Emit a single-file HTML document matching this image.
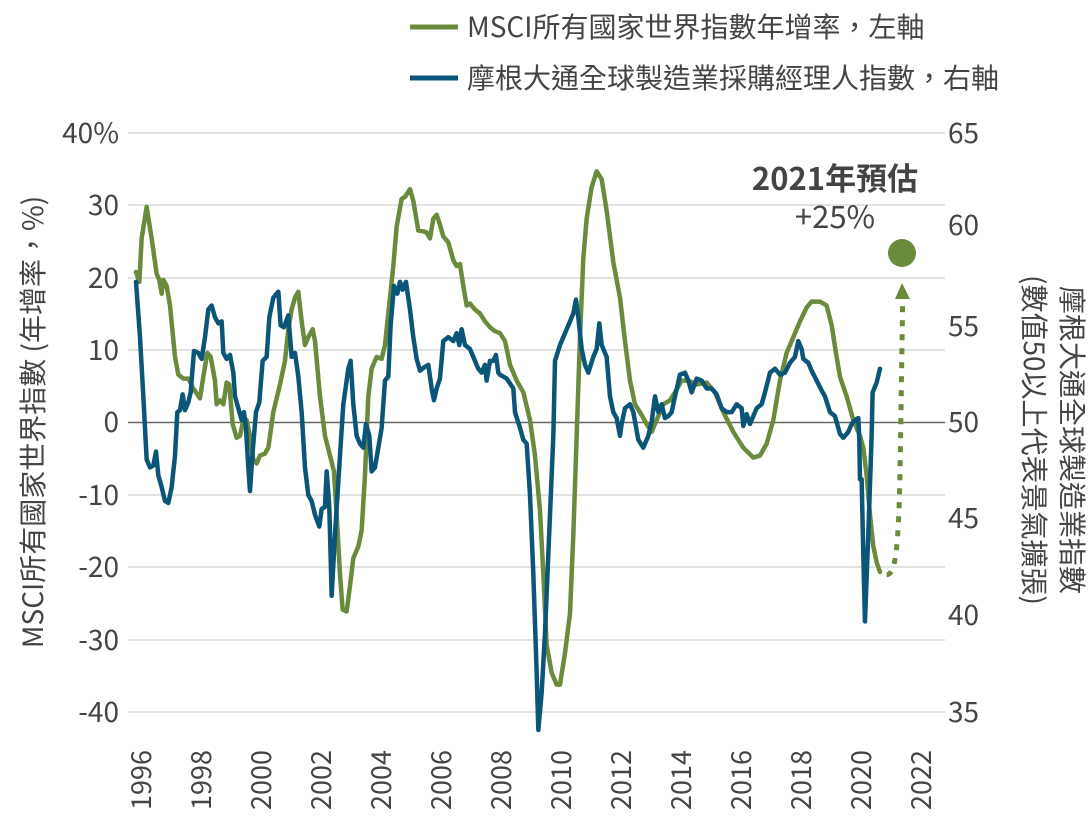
<!DOCTYPE html>
<html><head><meta charset="utf-8"><style>
body{margin:0;background:#fff}
svg{display:block}
text{font-family:"Noto Sans CJK TC","Liberation Sans",sans-serif;fill:#444}
</style></head><body>
<svg width="1090" height="838" viewBox="0 0 1090 838">
<g stroke="#d9d9d9" stroke-width="1.5">
<line x1="128" x2="945" y1="133" y2="133"/><line x1="128" x2="945" y1="205" y2="205"/>
<line x1="128" x2="945" y1="278" y2="278"/><line x1="128" x2="945" y1="350" y2="350"/>
<line x1="128" x2="945" y1="495" y2="495"/><line x1="128" x2="945" y1="567" y2="567"/>
<line x1="128" x2="945" y1="640" y2="640"/><line x1="128" x2="945" y1="712" y2="712"/>
</g>
<line x1="128" x2="945" y1="422.5" y2="422.5" stroke="#666" stroke-width="1.5"/>
<g font-size="28" text-anchor="end">
<text x="119" y="143">40%</text><text x="119" y="215">30</text><text x="119" y="288">20</text>
<text x="119" y="360">10</text><text x="119" y="432">0</text><text x="119" y="505">-10</text>
<text x="119" y="577">-20</text><text x="119" y="650">-30</text><text x="119" y="722">-40</text>
</g>
<g font-size="28">
<text x="948" y="143">65</text><text x="948" y="235">60</text><text x="948" y="336">55</text>
<text x="948" y="432">50</text><text x="948" y="528">45</text><text x="948" y="625">40</text>
<text x="948" y="722">35</text>
</g>
<g font-size="27">
<text transform="translate(151,810) rotate(-90)">1996</text>
<text transform="translate(211,810) rotate(-90)">1998</text>
<text transform="translate(271,810) rotate(-90)">2000</text>
<text transform="translate(331,810) rotate(-90)">2002</text>
<text transform="translate(391,810) rotate(-90)">2004</text>
<text transform="translate(451,810) rotate(-90)">2006</text>
<text transform="translate(511,810) rotate(-90)">2008</text>
<text transform="translate(571,810) rotate(-90)">2010</text>
<text transform="translate(631,810) rotate(-90)">2012</text>
<text transform="translate(691,810) rotate(-90)">2014</text>
<text transform="translate(751,810) rotate(-90)">2016</text>
<text transform="translate(811,810) rotate(-90)">2018</text>
<text transform="translate(871,810) rotate(-90)">2020</text>
<text transform="translate(931,810) rotate(-90)">2022</text>
</g>
<text transform="translate(43,422) rotate(-90)" font-size="28" text-anchor="middle">MSCI所有國家世界指數 (年增率，%)</text>
<text transform="translate(1062,440) rotate(90)" font-size="28" text-anchor="middle">摩根大通全球製造業指數</text>
<text transform="translate(1024,440) rotate(90)" font-size="28" text-anchor="middle">(數值50以上代表景氣擴張)</text>
<line x1="410" x2="458" y1="27" y2="27" stroke="#6a8a3c" stroke-width="5"/>
<line x1="410" x2="458" y1="78" y2="78" stroke="#0b5578" stroke-width="5"/>
<text x="467" y="37" font-size="28" fill="#555">MSCI所有國家世界指數年增率，左軸</text>
<text x="467" y="88" font-size="28" fill="#555">摩根大通全球製造業採購經理人指數，右軸</text>
<text x="835" y="190" font-size="31" font-weight="bold" text-anchor="middle" fill="#222">2021年預估</text>
<text x="835" y="228" font-size="31" text-anchor="middle" fill="#222">+25%</text>
<g fill="none" stroke-linejoin="round" stroke-linecap="round">
<g transform="translate(120,120) scale(0.3333,0.3948)">
<polyline vector-effect="non-scaling-stroke" stroke="#6a8a3c" stroke-width="4.5" points="48,385 58,410 65,300 80,220 95,300 110,390 118,405 125,440 130,405 140,420 150,470 165,600 175,645 190,655 205,655 220,680 240,705 250,650 262,590 272,600 285,660 290,720 300,710 310,720 320,665 328,670 338,770 350,805 360,800 370,760 380,760 390,800 400,860 410,870 420,850 435,845 445,830 460,740 480,670 495,610 505,530 515,480 525,450 535,435 545,510 555,570 565,550 578,530 585,560 600,700 615,800 630,850 642,890 650,1000 660,1150 668,1240 680,1245 690,1180 700,1110 715,1080 725,1040 735,900 745,700 755,630 770,600 785,605 795,570 810,450 820,370 830,270 845,200 855,195 870,175 880,205 895,280 910,282 920,285 930,300 940,250 950,240 960,265 970,295 985,310 1000,355 1010,370 1020,365 1030,420 1040,470 1050,465 1065,480 1080,490 1095,510 1110,525 1125,535 1140,540"/>
<polyline vector-effect="non-scaling-stroke" stroke="#0b5578" stroke-width="4.5" points="48,410 60,550 70,700 80,860 90,880 100,875 108,840 115,900 125,930 135,965 145,970 155,930 165,850 172,740 180,735 188,695 195,735 205,715 212,690 222,585 235,590 245,605 255,550 265,480 275,470 285,500 295,515 305,510 310,590 320,605 330,595 340,640 345,700 355,730 365,760 372,740 378,780 385,880 390,940 398,840 408,740 418,715 428,610 440,600 448,500 460,450 475,435 482,520 492,525 505,495 515,600 525,590 535,650 545,740 555,880 565,950 575,965 585,1000 598,1030 605,985 615,980 620,890 628,980 635,1205 645,1050 660,850 670,720 685,630 692,610 700,720 710,800 720,820 730,830 738,770 748,800 755,890 765,880 775,830 785,780 795,660 805,650 812,520 822,420 832,440 840,410 848,430 858,410 870,480 880,550 890,605 900,635 915,625 925,620 935,680 942,710 950,680 960,655 970,560 985,550 1000,560 1010,540 1018,570 1025,530 1035,570 1050,580 1065,610 1075,630 1085,640 1095,620 1100,660 1110,610 1120,610 1128,595 1135,640 1140,645"/>
</g>
<g transform="translate(500,120) scale(0.3333,0.3948)">
<polyline vector-effect="non-scaling-stroke" stroke="#6a8a3c" stroke-width="4.5" points="0,540 15,560 30,620 50,660 70,690 90,760 105,850 120,990 130,1150 140,1330 155,1400 170,1430 180,1430 195,1350 210,1250 220,1050 230,800 240,550 250,350 260,250 275,170 290,130 305,150 320,230 340,360 360,450 375,560 390,660 405,720 420,740 440,770 455,790 470,760 490,720 510,710 525,690 545,660 565,660 590,670 620,665 645,690 670,740 700,790 730,830 760,855 780,850 800,820 820,760 840,660 860,590 880,550 900,510 920,475 935,460 960,460 980,470 995,520 1010,600 1020,650 1040,700 1060,760 1080,800 1090,830 1100,900 1110,1000 1120,1080 1130,1120 1140,1145"/>
<polyline vector-effect="non-scaling-stroke" stroke="#0b5578" stroke-width="4.5" points="0,645 20,655 40,680 45,740 60,780 70,810 80,820 90,950 100,1150 110,1400 115,1545 125,1450 135,1300 150,1000 160,800 165,610 180,570 190,550 200,530 210,510 220,490 228,455 235,500 245,580 255,620 265,640 280,600 290,580 298,515 305,570 320,600 330,700 340,740 350,755 360,800 365,770 375,730 390,720 400,740 415,810 430,830 445,800 455,765 465,700 475,740 485,720 495,755 505,750 515,740 525,700 540,645 555,640 565,660 575,690 590,655 605,660 620,680 635,680 650,695 665,730 680,740 695,740 710,720 725,730 730,775 740,745 750,770 770,730 785,720 795,690 810,640 825,630 840,645 855,640 870,615 885,600 895,560 905,580 910,605 925,615 935,635 950,660 965,685 975,700 990,740 1005,750 1020,795 1030,805 1045,790 1055,770 1065,760 1075,755 1078,810 1080,910 1085,910 1090,1100 1095,1270 1105,1050 1115,800 1118,690 1130,665 1140,630"/>
<path vector-effect="non-scaling-stroke" stroke="#6a8a3c" stroke-width="5" stroke-dasharray="6,8" stroke-linecap="butt" d="M1160,1152 C1185,1150 1195,1100 1200,900 L1208,470"/>
</g>
</g>
<polygon points="902,283 895,299 910,299" fill="#6a8a3c"/>
<circle cx="902" cy="253" r="14" fill="#6a8a3c"/>
</svg>
</body></html>
